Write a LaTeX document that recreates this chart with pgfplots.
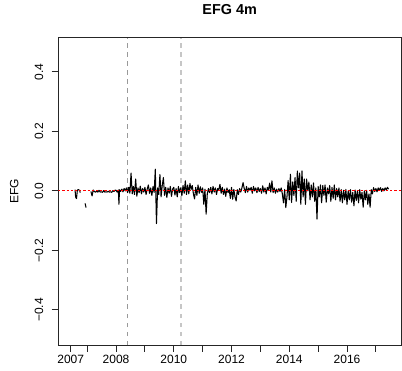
\documentclass[border=0pt]{standalone}
\usepackage{pgfplots}
\pgfplotsset{compat=1.18}
\usepackage{fontspec}
\setmainfont{Liberation Sans}
\begin{document}
\begin{tikzpicture}
\useasboundingbox (-58.3pt,-25pt) rectangle (343.7pt,345pt);
\begin{axis}[
  scale only axis,
  width=342.7pt, height=307.3pt,
  anchor=south west, at={(0pt,0pt)},
  xmin=2006.0, xmax=2017.87,
  ymin=-0.518, ymax=0.515,
  axis line style={black!85, line width=0.9pt},
  tick style={black!85, line width=0.9pt},
  tick align=outside,
  tick pos=left,
  major tick length=6.6pt,
  xtick={2006.43,2007,2008,2009,2010,2011,2012,2013,2014,2015,2016,2017},
  xticklabels={2007,,2008,,2010,,2012,,2014,,2016,},
  ytick={-0.4,-0.2,0,0.2,0.4},
  yticklabels={−0.4,−0.2,0.0,0.2,0.4},
  ticklabel style={font=\fontsize{12}{14}\selectfont},
  yticklabel style={xshift=-5pt, rotate=90, anchor=south},
  title={\bfseries EFG 4m},
  title style={font=\fontsize{14.4}{16}\selectfont, at={(axis description cs:0.5,1.0716)}, anchor=center},
  ylabel={EFG},
  ylabel style={font=\fontsize{12}{14}\selectfont, at={(axis description cs:-0.1284,0.5)}, anchor=center},
  unbounded coords=jump,
  clip=true,
]
\addplot[gray!80, line width=1.2pt, dash pattern=on 4.5pt off 4.5pt] coordinates {(2008.40,-0.518) (2008.40,0.515)};
\addplot[gray!45, line width=1.2pt, dash pattern=on 4.5pt off 4.5pt] coordinates {(2010.25,-0.518) (2010.25,0.515)};
\addplot[black, line width=1.05pt, line join=round] table[row sep=\\] {
x y\\
2006.58 0.004\\ 2006.60 -0.020\\ 2006.63 -0.026\\ 2006.66 0.003\\ 2006.70 0.004\\ 2006.74 0.002\\ 2006.76 -0.006\\
2006.80 nan\\
2006.93 -0.042\\ 2006.96 -0.056\\
2007.00 nan\\
2007.13 -0.002\\ 2007.17 -0.017\\ 2007.21 0.003\\ 2007.25 -0.002\\ 2007.29 -0.004\\ 2007.33 -0.001\\ 2007.37 -0.004\\
2007.41 0.002\\ 2007.45 -0.004\\ 2007.49 -0.003\\ 2007.53 -0.005\\ 2007.57 0.001\\ 2007.61 -0.004\\ 2007.65 -0.003\\
2007.69 -0.004\\ 2007.73 -0.001\\ 2007.77 -0.004\\ 2007.81 -0.003\\ 2007.85 -0.005\\ 2007.89 0.001\\ 2007.93 -0.002\\ 2007.97 0.003\\
2008.00 0.002\\ 2008.04 -0.004\\ 2008.08 0.003\\ 2008.10 -0.045\\ 2008.12 0.004\\ 2008.16 -0.002\\ 2008.20 0.006\\
2008.24 -0.003\\ 2008.28 0.008\\ 2008.32 0.000\\ 2008.36 0.010\\ 2008.40 -0.006\\ 2008.44 0.012\\ 2008.48 -0.008\\
2008.52 0.060\\ 2008.56 -0.010\\ 2008.60 0.015\\ 2008.64 -0.012\\ 2008.68 0.040\\ 2008.72 -0.018\\ 2008.76 0.010\\
2008.80 -0.006\\ 2008.84 0.016\\ 2008.88 -0.010\\ 2008.92 0.008\\ 2008.96 -0.004\\ 2009.00 0.012\\ 2009.04 -0.012\\
2009.08 0.006\\ 2009.12 0.020\\ 2009.16 -0.008\\ 2009.20 0.010\\ 2009.24 -0.015\\ 2009.28 0.014\\ 2009.32 -0.005\\
2009.36 0.073\\ 2009.40 -0.110\\ 2009.44 0.010\\ 2009.48 -0.012\\ 2009.52 0.055\\ 2009.56 -0.020\\ 2009.60 0.018\\
2009.64 0.045\\ 2009.68 -0.015\\ 2009.72 0.012\\ 2009.76 -0.022\\ 2009.80 0.010\\ 2009.84 -0.008\\ 2009.88 0.015\\
2009.92 -0.018\\ 2009.96 0.006\\ 2010.00 0.012\\ 2010.04 -0.014\\ 2010.08 0.008\\ 2010.12 -0.020\\ 2010.16 0.015\\
2010.20 -0.006\\ 2010.24 0.010\\ 2010.28 -0.016\\ 2010.32 0.018\\ 2010.36 -0.008\\ 2010.40 0.034\\ 2010.44 -0.012\\
2010.48 0.020\\ 2010.52 -0.010\\ 2010.56 0.025\\ 2010.60 0.005\\ 2010.64 0.018\\ 2010.68 -0.010\\ 2010.72 -0.027\\
2010.76 0.012\\ 2010.80 -0.015\\ 2010.84 0.020\\ 2010.88 -0.008\\ 2010.92 0.014\\ 2010.96 -0.005\\ 2011.00 0.010\\
2011.04 -0.045\\ 2011.08 0.006\\ 2011.12 -0.078\\ 2011.16 -0.010\\ 2011.20 0.008\\ 2011.24 -0.006\\ 2011.28 0.012\\
2011.32 -0.010\\ 2011.36 0.015\\ 2011.40 -0.004\\ 2011.44 0.010\\ 2011.48 -0.012\\ 2011.52 0.008\\ 2011.56 0.004\\
2011.60 0.022\\ 2011.64 -0.008\\ 2011.68 0.012\\ 2011.72 -0.012\\ 2011.76 0.006\\ 2011.80 -0.018\\ 2011.84 0.010\\
2011.88 -0.006\\ 2011.92 0.004\\ 2011.96 -0.025\\ 2012.00 0.012\\ 2012.04 -0.028\\ 2012.08 0.005\\ 2012.12 -0.020\\
2012.16 -0.034\\ 2012.20 0.004\\ 2012.24 -0.012\\ 2012.28 0.008\\ 2012.32 -0.004\\ 2012.36 0.010\\ 2012.40 0.028\\
2012.44 0.008\\ 2012.48 -0.006\\ 2012.52 0.015\\ 2012.56 -0.004\\ 2012.60 0.010\\ 2012.64 0.002\\ 2012.68 0.012\\
2012.72 -0.008\\ 2012.76 0.015\\ 2012.80 0.000\\ 2012.84 0.010\\ 2012.88 -0.006\\ 2012.92 0.012\\ 2012.96 -0.002\\
2013.00 0.008\\ 2013.04 -0.008\\ 2013.08 0.017\\ 2013.12 -0.004\\ 2013.16 0.010\\ 2013.20 -0.010\\ 2013.24 0.012\\
2013.28 0.002\\ 2013.32 0.026\\ 2013.36 -0.004\\ 2013.40 0.034\\ 2013.44 -0.006\\ 2013.48 0.010\\ 2013.52 -0.008\\
2013.56 0.006\\ 2013.60 -0.004\\ 2013.64 0.008\\ 2013.68 -0.002\\ 2013.72 0.010\\ 2013.76 -0.010\\ 2013.80 -0.040\\
2013.84 0.005\\ 2013.88 -0.056\\ 2013.92 -0.020\\ 2013.96 0.035\\ 2014.00 -0.030\\ 2014.04 0.056\\ 2014.08 -0.039\\
2014.12 0.030\\ 2014.16 -0.015\\ 2014.20 0.045\\ 2014.24 -0.035\\ 2014.28 0.067\\ 2014.32 0.010\\ 2014.36 0.060\\
2014.40 -0.045\\ 2014.44 0.067\\ 2014.48 -0.020\\ 2014.52 0.040\\ 2014.56 -0.045\\ 2014.60 0.040\\ 2014.64 0.000\\
2014.68 0.030\\ 2014.72 -0.030\\ 2014.76 0.020\\ 2014.80 -0.020\\ 2014.84 0.027\\ 2014.88 -0.035\\ 2014.92 0.010\\
2014.96 -0.095\\ 2015.00 0.015\\ 2015.04 -0.020\\ 2015.08 0.020\\ 2015.12 -0.040\\ 2015.16 0.018\\ 2015.20 -0.015\\
2015.24 0.020\\ 2015.28 -0.038\\ 2015.32 0.010\\ 2015.36 -0.010\\ 2015.40 0.018\\ 2015.44 -0.035\\ 2015.48 0.012\\
2015.52 -0.025\\ 2015.56 0.020\\ 2015.60 -0.030\\ 2015.64 0.008\\ 2015.68 -0.020\\ 2015.72 0.010\\ 2015.76 -0.035\\
2015.80 0.004\\ 2015.84 -0.040\\ 2015.88 0.002\\ 2015.92 -0.030\\ 2015.96 0.005\\ 2016.00 -0.045\\ 2016.04 0.000\\
2016.08 -0.030\\ 2016.12 0.004\\ 2016.16 -0.038\\ 2016.20 -0.005\\ 2016.24 -0.050\\ 2016.28 0.003\\ 2016.32 -0.032\\
2016.36 0.000\\ 2016.40 -0.040\\ 2016.44 0.004\\ 2016.48 -0.028\\ 2016.52 -0.005\\ 2016.56 -0.055\\ 2016.60 0.000\\
2016.64 -0.030\\ 2016.68 0.002\\ 2016.72 -0.045\\ 2016.76 -0.010\\ 2016.80 -0.055\\ 2016.84 0.004\\ 2016.88 -0.010\\
2016.92 0.011\\ 2016.96 -0.002\\ 2017.00 0.008\\ 2017.04 -0.003\\ 2017.08 0.010\\ 2017.12 0.002\\ 2017.16 0.011\\
2017.20 -0.002\\ 2017.24 0.008\\ 2017.28 0.000\\ 2017.32 0.010\\ 2017.36 0.003\\ 2017.40 0.012\\ 2017.44 0.006\\
};
\addplot[red, line width=0.9pt, dash pattern=on 2.2pt off 2pt] coordinates {(2006.0,0) (2017.87,0)};
\end{axis}
\end{tikzpicture}
\end{document}
